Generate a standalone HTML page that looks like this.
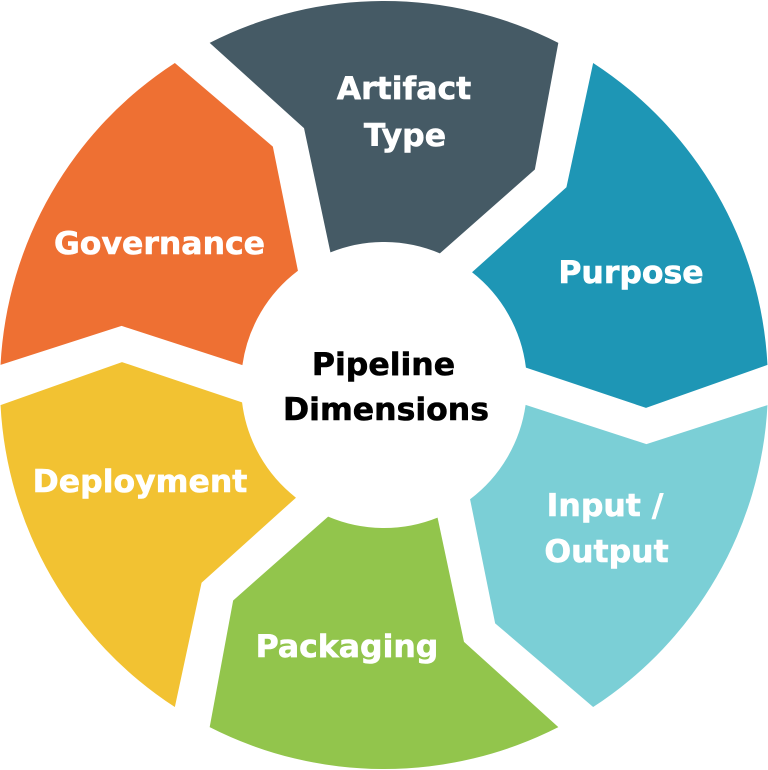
<!DOCTYPE html>
<html>
<head>
<meta charset="utf-8">
<style>
  html, body { margin: 0; padding: 0; background: #ffffff; }
  body { width: 768px; height: 770px; overflow: hidden; }
  svg { display: block; }
  text { font-family: "DejaVu Sans", "Liberation Sans", sans-serif; font-weight: bold; font-size: 31.5px; text-anchor: middle; stroke-width: 0.6px; }
</style>
</head>
<body>
<svg width="768" height="770" viewBox="0 0 768 770" xmlns="http://www.w3.org/2000/svg">
  <defs>
    <path id="seg" d="M209.67,42.85 A384,384 0 0 1 558.33,42.85 L534.85,169.56 L439.87,253.37 A143,143 0 0 0 330.43,252.41 L304.01,128.17 Z"/>
  </defs>
  <rect x="0" y="0" width="768" height="770" fill="#ffffff"/>
  <use href="#seg" fill="#455A65" transform="rotate(0 384 385)"/>
  <use href="#seg" fill="#1E96B5" transform="rotate(60 384 385)"/>
  <use href="#seg" fill="#7BCFD6" transform="rotate(120 384 385)"/>
  <use href="#seg" fill="#92C54C" transform="rotate(180 384 385)"/>
  <use href="#seg" fill="#F2C232" transform="rotate(240 384 385)"/>
  <use href="#seg" fill="#EE7033" transform="rotate(300 384 385)"/>

  <g fill="#ffffff" stroke="#ffffff">
    <text x="404" y="99">Artifact</text>
    <text x="405" y="146">Type</text>
    <text x="631" y="283">Purpose</text>
    <text x="605" y="516">Input /</text>
    <text x="606.5" y="562">Output</text>
    <text x="347" y="657">Packaging</text>
    <text x="140" y="492">Deployment</text>
    <text x="159.5" y="254">Governance</text>
  </g>
  <g fill="#000000" stroke="#000000">
    <text x="383.5" y="375">Pipeline</text>
    <text x="386" y="420">Dimensions</text>
  </g>
</svg>
</body>
</html>
